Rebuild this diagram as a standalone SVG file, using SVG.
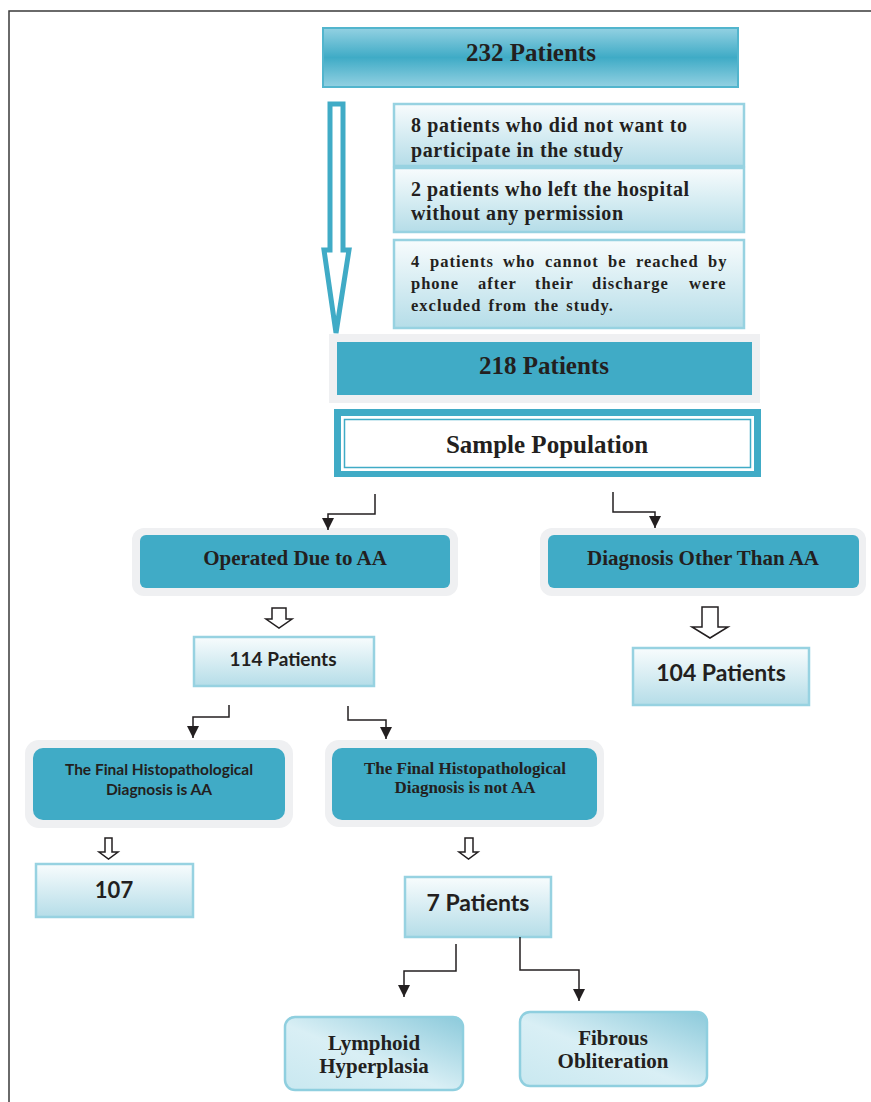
<svg xmlns="http://www.w3.org/2000/svg" width="871" height="1102" viewBox="0 0 871 1102">
<defs>
<linearGradient id="gTop" x1="0" y1="0" x2="0" y2="1">
<stop offset="0" stop-color="#93d1e2"/><stop offset="0.5" stop-color="#3fabc6"/><stop offset="1" stop-color="#93d1e2"/>
</linearGradient>
<linearGradient id="gLight" x1="0" y1="0" x2="0" y2="1">
<stop offset="0" stop-color="#f8fcfd"/><stop offset="1" stop-color="#b5dde8"/>
</linearGradient>
<linearGradient id="gDiag" x1="0" y1="1" x2="1" y2="0">
<stop offset="0" stop-color="#c9e8f0"/><stop offset="0.45" stop-color="#d9eff5"/><stop offset="1" stop-color="#8ccadb"/>
</linearGradient>
<marker id="ah" viewBox="0 0 12 12" refX="12" refY="6" markerWidth="12" markerHeight="12" markerUnits="userSpaceOnUse" orient="auto">
<path d="M0,0 L12,6 L0,12 Z" fill="#231f20"/>
</marker>
<style>
.t{font-family:"Liberation Serif","Times New Roman",serif;font-weight:bold;fill:#231f20}
.c{font-family:Lato,"Open Sans",sans-serif;font-weight:bold;fill:#231f20}
.teal{fill:#40abc6}
.frame{fill:#eff0f2}
.lb{fill:url(#gLight);stroke:#97d2e1;stroke-width:2.5}
.conn{fill:none;stroke:#231f20;stroke-width:1.5}
.hollow{fill:#fff;stroke:#231f20;stroke-width:1.5;stroke-linejoin:miter}
</style>
</defs>
<rect x="0" y="0" width="871" height="1102" fill="#fff"/>
<path d="M9,1102 V11 H871" fill="none" stroke="#3a3a3a" stroke-width="1.5"/>

<g id="n232">
<rect x="323" y="28" width="415" height="59" fill="url(#gTop)" stroke="#52b5cd" stroke-width="2"/>
<text class="t" x="531" y="61" font-size="25" text-anchor="middle">232 Patients</text>
</g>

<g id="bigarrow">
<path d="M330,104 H343 V250 H349 L336,333 L324,250 H330 Z" fill="#fff" stroke="#40abc6" stroke-width="5" stroke-linejoin="miter"/>
</g>

<g id="ex1">
<rect x="394" y="104" width="350" height="62" class="lb"/>
<text class="t" font-size="20"><tspan x="411" y="132" textLength="276" lengthAdjust="spacing">8 patients who did not want to</tspan><tspan x="411" y="157" textLength="212" lengthAdjust="spacing">participate in the study</tspan></text>
</g>
<g id="ex2">
<rect x="394" y="168" width="350" height="64" class="lb"/>
<text class="t" font-size="20"><tspan x="411" y="196" textLength="278" lengthAdjust="spacing">2 patients who left the hospital</tspan><tspan x="411" y="220" textLength="212" lengthAdjust="spacing">without any permission</tspan></text>
</g>
<g id="ex3">
<rect x="394" y="240" width="350" height="88" class="lb"/>
<text class="t" font-size="16.5" letter-spacing="1">
<tspan x="411" y="267">4</tspan><tspan x="430" y="267">patients</tspan><tspan x="503" y="267">who</tspan><tspan x="545" y="267">cannot</tspan><tspan x="608" y="267">be</tspan><tspan x="636" y="267">reached</tspan><tspan x="708" y="267">by</tspan>
<tspan x="411" y="289">phone</tspan><tspan x="478" y="289">after</tspan><tspan x="535" y="289">their</tspan><tspan x="592" y="289">discharge</tspan><tspan x="689" y="289">were</tspan>
<tspan x="411" y="311" word-spacing="2">excluded from the study.</tspan>
</text>
</g>

<g id="n218">
<rect x="329" y="334" width="431" height="69" class="frame"/>
<rect x="337" y="342" width="415" height="53" class="teal"/>
<text class="t" x="544" y="374" font-size="25" text-anchor="middle">218 Patients</text>
</g>

<g id="sample">
<rect x="334" y="409" width="427" height="68" class="teal"/>
<rect x="341" y="416" width="413" height="55" fill="#fff"/>
<rect x="344.5" y="419.5" width="406" height="48" fill="none" stroke="#40abc6" stroke-width="1.5"/>
<text class="t" x="547" y="453" font-size="25" text-anchor="middle">Sample Population</text>
</g>

<g id="operated">
<rect x="132" y="528" width="326" height="68" rx="12" class="frame"/>
<rect x="140" y="535" width="310" height="53" rx="6" class="teal"/>
<text class="t" x="295" y="565" font-size="21" text-anchor="middle">Operated Due to AA</text>
</g>

<g id="other">
<rect x="540" y="528" width="326" height="68" rx="12" class="frame"/>
<rect x="548" y="535" width="311" height="53" rx="6" class="teal"/>
<text class="t" x="703" y="565" font-size="21" text-anchor="middle">Diagnosis Other Than AA</text>
</g>

<g id="n114">
<rect x="194" y="637" width="180" height="49" class="lb"/>
<text class="c" x="283" y="666" font-size="19" text-anchor="middle">114 Patients</text>
</g>

<g id="n104">
<rect x="633" y="648" width="176" height="57" class="lb"/>
<text class="c" x="721" y="681" font-size="23" text-anchor="middle">104 Patients</text>
</g>

<g id="finalAA">
<rect x="25" y="740" width="268" height="88" rx="14" class="frame"/>
<rect x="33" y="748" width="252" height="72" rx="10" class="teal"/>
<text class="c" font-size="15.5" text-anchor="middle"><tspan x="159" y="775">The Final Histopathological</tspan><tspan x="159" y="795">Diagnosis is AA</tspan></text>
</g>

<g id="finalNotAA">
<rect x="325" y="740" width="279" height="87" rx="14" class="frame"/>
<rect x="332" y="748" width="265" height="72" rx="10" class="teal"/>
<text class="t" font-size="17" text-anchor="middle"><tspan x="465" y="774">The Final Histopathological</tspan><tspan x="465" y="793">Diagnosis is not AA</tspan></text>
</g>

<g id="n107">
<rect x="36" y="864" width="157" height="53" class="lb"/>
<text class="c" x="114" y="898" font-size="22" text-anchor="middle">107</text>
</g>

<g id="n7">
<rect x="405" y="877" width="146" height="60" class="lb"/>
<text class="c" x="478" y="911" font-size="23" text-anchor="middle">7 Patients</text>
</g>

<g id="lymphoid">
<rect x="285" y="1017" width="178" height="73" rx="10" fill="url(#gDiag)" stroke="#8fcfdf" stroke-width="2.5"/>
<text class="t" font-size="21" text-anchor="middle"><tspan x="374" y="1050">Lymphoid</tspan><tspan x="374" y="1073">Hyperplasia</tspan></text>
</g>

<g id="fibrous">
<rect x="520" y="1012" width="187" height="74" rx="10" fill="url(#gDiag)" stroke="#8fcfdf" stroke-width="2.5"/>
<text class="t" font-size="21" text-anchor="middle"><tspan x="613" y="1045">Fibrous</tspan><tspan x="613" y="1068">Obliteration</tspan></text>
</g>

<g id="connectors">
<path class="conn" d="M375,494 V514 H328 V530" marker-end="url(#ah)"/>
<path class="conn" d="M613,492 V512 H655 V528" marker-end="url(#ah)"/>
<path class="conn" d="M229,705 V717 H193 V738" marker-end="url(#ah)"/>
<path class="conn" d="M348,706 V720 H386 V739" marker-end="url(#ah)"/>
<path class="conn" d="M456,944 V971 H404 V997" marker-end="url(#ah)"/>
<path class="conn" d="M520,937 V970 H579 V1001" marker-end="url(#ah)"/>
<path class="hollow" d="M272,608 H286 V619 H292 L279,628 L266,619 H272 Z"/>
<path class="hollow" d="M702,607 H718 V627 H728 L710,638 L692,627 H702 Z"/>
<path class="hollow" d="M105,838 H112 V852 H118 L108.5,859 L99,852 H105 Z"/>
<path class="hollow" d="M465,838 H473 V852 H478 L468.5,859 L459,852 H465 Z"/>
</g>
</svg>
